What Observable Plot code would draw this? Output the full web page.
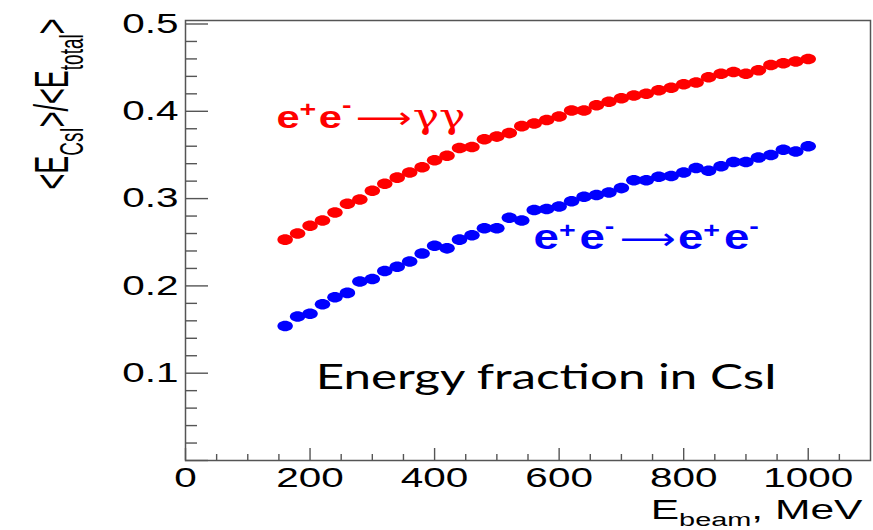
<!DOCTYPE html>
<html><head><meta charset="utf-8">
<script src="https://cdn.jsdelivr.net/npm/d3@7"></script>
<script src="https://cdn.jsdelivr.net/npm/@observablehq/plot@0.6"></script>
<style>body{margin:0;background:#fff}</style>
</head><body><div id="chart"></div>
<script>
// ---- data ----
const energies = [160,180,200,220,240,260,280,300,320,340,360,380,400,420,440,460,480,500,520,540,560,580,600,620,640,660,680,700,720,740,760,780,800,820,840,860,880,900,920,940,960,980,1000];
const fracGammaGamma = [0.253,0.260,0.269,0.275,0.284,0.294,0.299,0.309,0.317,0.324,0.330,0.336,0.344,0.349,0.358,0.359,0.368,0.371,0.375,0.383,0.386,0.390,0.394,0.401,0.401,0.407,0.411,0.415,0.418,0.420,0.424,0.427,0.431,0.433,0.439,0.443,0.445,0.443,0.447,0.453,0.455,0.457,0.460];
const fracBhabha = [0.154,0.165,0.168,0.179,0.187,0.192,0.205,0.208,0.217,0.222,0.228,0.237,0.246,0.243,0.253,0.258,0.266,0.266,0.278,0.275,0.287,0.288,0.291,0.297,0.302,0.304,0.307,0.312,0.321,0.321,0.325,0.326,0.330,0.335,0.332,0.337,0.342,0.342,0.347,0.350,0.356,0.354,0.360];
const xTickLabels = [0,200,400,600,800,1000];
const yTickLabels = [0.1,0.2,0.3,0.4,0.5];
const xMajorTicks = [0,200,400,600,800,1000];
const xMinorTicks = [50,100,150,250,300,350,450,500,550,650,700,750,850,900,950,1050];
const yMajorTicks = [0,0.1,0.2,0.3,0.4,0.5];
const yMinorTicks = [0.02,0.04,0.06,0.08,0.12,0.14,0.16,0.18,0.22,0.24,0.26,0.28,0.32,0.34,0.36,0.38,0.42,0.44,0.46,0.48];
const seriesLabels = ["e+e-→γγ", "e+e-→e+e-"];
const yTitle = "<ECsI>/<Etotal>";
const xTitle = "Ebeam, MeV";
const noteText = "Energy fraction in CsI";

const redRows = energies.map((E, i) => ({E, f: fracGammaGamma[i]}));
const blueRows = energies.map((E, i) => ({E, f: fracBhabha[i]}));

// elliptical marker (ROOT full circle drawn in a horizontally stretched picture)
const ellipse = {draw(ctx, size) {
  const r = Math.sqrt(size / Math.PI), rx = r * 1.25, ry = r * 0.85, k = 0.5523;
  ctx.moveTo(rx, 0);
  ctx.bezierCurveTo(rx, ry * k, rx * k, ry, 0, ry);
  ctx.bezierCurveTo(-rx * k, ry, -rx, ry * k, -rx, 0);
  ctx.bezierCurveTo(-rx, -ry * k, -rx * k, -ry, 0, -ry);
  ctx.bezierCurveTo(rx * k, -ry, rx, -ry * k, rx, 0);
  ctx.closePath();
}};

const axisGray = "#555";
const chart = Plot.plot({
  width: 873, height: 530,
  marginLeft: 185, marginRight: 3, marginTop: 20, marginBottom: 70,
  x: {domain: [0, 1100]},
  y: {domain: [0, 0.504]},
  style: {fontFamily: "'Liberation Sans', Arial, sans-serif", color: "#000", background: "#fff"},
  marks: [
    Plot.tickX(xMinorTicks, {x: d => d, insetTop: 434, stroke: axisGray, strokeWidth: 1.4}),
    Plot.tickX(xMajorTicks, {x: d => d, insetTop: 428, stroke: axisGray, strokeWidth: 1.4}),
    Plot.tickY(yMinorTicks, {y: d => d, insetRight: 673, stroke: axisGray, strokeWidth: 1.4}),
    Plot.tickY(yMajorTicks, {y: d => d, insetRight: 662, stroke: axisGray, strokeWidth: 1.4}),
    Plot.axisX(xTickLabels, {tickSize: 0, tickPadding: 7, fontSize: 27, tickFormat: d3.format("d"), label: null}),
    Plot.axisY(yTickLabels, {tickSize: 0, tickPadding: 7, fontSize: 27, tickFormat: d3.format(".1f"), label: null}),
    Plot.frame({stroke: axisGray, strokeWidth: 1.5}),
    Plot.dot(redRows, {x: "E", y: "f", r: 6.2, symbol: ellipse, fill: "#ff0000", stroke: null}),
    Plot.dot(blueRows, {x: "E", y: "f", r: 6.2, symbol: ellipse, fill: "#0000ff", stroke: null}),
    Plot.text([seriesLabels[0]], {x: 146, y: 0.381, text: d => d, textAnchor: "start", lineAnchor: "bottom", fill: "#ff0000", fontSize: 32, fontWeight: "bold"}),
    Plot.text([seriesLabels[1]], {x: 559, y: 0.242, text: d => d, textAnchor: "start", lineAnchor: "bottom", fill: "#0000ff", fontSize: 35, fontWeight: "bold"}),
    Plot.text([yTitle], {frameAnchor: "top-left", rotate: -90, textAnchor: "end", lineAnchor: "bottom", dx: -118, dy: -2, fontSize: 27, text: d => d}),
    Plot.text([xTitle], {frameAnchor: "bottom-right", textAnchor: "end", lineAnchor: "bottom", dx: -8, dy: 58, fontSize: 28, text: d => d}),
    Plot.text([noteText], {x: 209, y: 0.082, text: d => d, textAnchor: "start", lineAnchor: "bottom", fontSize: 34, fontFamily: "Lato, 'Open Sans', sans-serif", fill: "#000"})
  ]
});
document.getElementById("chart").appendChild(chart);

// ---- post-processing: horizontal stretch of text and rich labels ----
function stretch(el, s) {
  if (!el) return;
  const t = el.getAttribute("transform") || "";
  if (/rotate/.test(t)) el.setAttribute("transform", t.replace(/\s*rotate/, ` scale(${s},1) rotate`));
  else if (t) el.setAttribute("transform", `${t} scale(${s},1)`);
  else { const x = +el.getAttribute("x") || 0; el.setAttribute("transform", `translate(${x},0) scale(${s},1) translate(${-x},0)`); }
}
const NS = "http://www.w3.org/2000/svg";
function rich(el, parts) {
  if (!el) return;
  el.textContent = "";
  let shift = 0;
  for (const p of parts) {
    const ts = document.createElementNS(NS, "tspan");
    ts.textContent = p.t;
    const target = p.shift || 0;
    if (target !== shift) { ts.setAttribute("dy", target - shift); shift = target; }
    if (p.dx) ts.setAttribute("dx", p.dx);
    if (p.size) ts.setAttribute("font-size", p.size);
    if (p.weight) ts.setAttribute("font-weight", p.weight);
    if (p.family) ts.setAttribute("font-family", p.family);
    el.appendChild(ts);
  }
}
const allText = Array.from(chart.querySelectorAll("text"));
const q = s => allText.find(el => el.textContent === s);
chart.querySelectorAll('g[aria-label="x-axis tick label"] text, g[aria-label="y-axis tick label"] text').forEach(el => stretch(el, 1.5));

const yt = q(yTitle);
rich(yt, [{t: "<E"}, {t: "CsI", size: 19, shift: 9}, {t: ">/<E", shift: 0}, {t: "total", size: 19, shift: 9}, {t: ">", shift: 0}]);
stretch(yt, 1.75);

const xt = q(xTitle);
rich(xt, [{t: "E"}, {t: "beam", size: 19, shift: 7}, {t: ", MeV", shift: 0}]);
stretch(xt, 1.52);

const arrow = {t: "⟶", weight: "normal", family: "'DejaVu Sans'", size: 30, shift: 0, dx: 3};
const plus = {t: "+", size: 22, shift: -11};
const minus = {t: "-", size: 22, shift: -16};
const gg = q(seriesLabels[0]);
rich(gg, [{t: "e"}, plus, {t: "e", shift: 0, dx: 2}, minus, arrow,
  {t: "γγ", weight: "normal", family: "'DejaVu Serif', serif", size: 34, shift: 0, dx: 1}]);
stretch(gg, 1.3);

const ee = q(seriesLabels[1]);
rich(ee, [{t: "e"}, plus, {t: "e", shift: 0, dx: 3}, minus, {...arrow, dx: 4},
  {t: "e", shift: 0, dx: 2}, plus, {t: "e", shift: 0, dx: 3}, minus]);
stretch(ee, 1.3);

stretch(q(noteText), 1.45);
</script>
</body></html>
